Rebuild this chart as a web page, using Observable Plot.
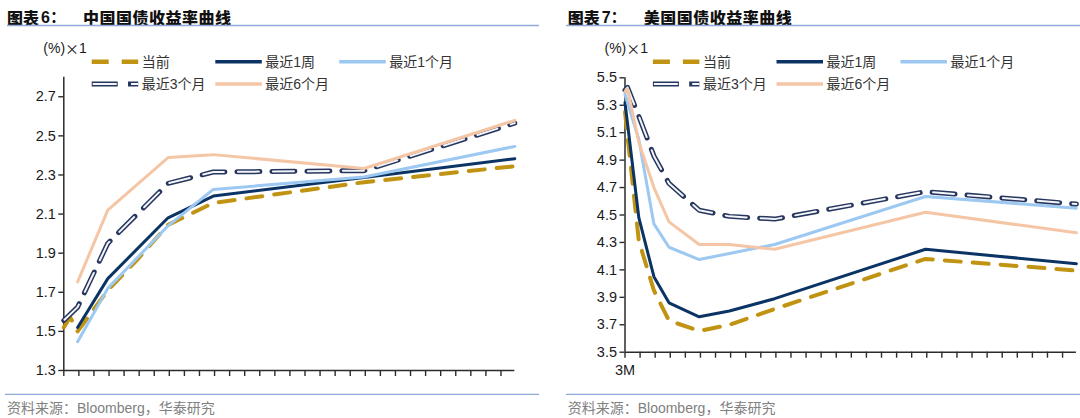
<!DOCTYPE html>
<html><head><meta charset="utf-8">
<script src="https://cdn.jsdelivr.net/npm/d3@7"></script>
<script src="https://cdn.jsdelivr.net/npm/@observablehq/plot@0.6"></script>
<style>
html,body{margin:0;padding:0;background:#fff;}
#wrap{position:relative;width:1080px;height:418px;overflow:hidden;font-family:"Liberation Sans",Arial,"Noto Sans CJK SC",sans-serif;}
#wrap > svg{position:absolute;top:0;}
</style></head><body><div id="wrap"></div>
<script>
// ---------- data ----------
const tenors = ["1M","3M","6M","1Y","2Y","3Y","5Y","7Y","10Y","20Y","30Y"];
const tenorYears = [1/12, 0.25, 0.5, 1, 2, 3, 5, 7, 10, 20, 30];
const seriesNames = ["当前","最近1周","最近1个月","最近3个月","最近6个月"];

// China (%)
const cnCurrent = [1.52, null, 1.573, 1.50, null, 1.71, 1.87, 2.045, 2.157, 2.263, 2.345];
const cnWeek    = [null, null, null, 1.52, null, 1.77, null, 2.081, 2.192, 2.287, 2.383];
const cnMonth   = [null, null, null, 1.447, null, 1.72, null, 2.04, 2.226, 2.29, 2.446];
const cn3Month  = [1.556, null, null, 1.624, null, 1.95, null, 2.257, 2.315, 2.322, 2.565];
const cn6Month  = [null, null, null, 1.753, null, 2.12, null, 2.389, 2.404, 2.333, 2.579];

// US (%)
const usCurrent = [5.25, null, null, 4.31, 3.95, 3.73, 3.655, 3.70, 3.815, 4.18, 4.095];
const usWeek    = [5.32, null, null, 4.48, 4.05, 3.86, 3.758, 3.80, 3.89, 4.25, 4.145];
const usMonth   = [5.38, null, null, 5.05, 4.435, 4.265, 4.175, 4.22, 4.285, 4.635, 4.55];
const us3Month  = [5.41, 5.43, null, 5.22, 4.93, 4.73, 4.535, 4.49, 4.47, 4.67, 4.58];
const us6Month  = [5.40, 5.42, null, 5.03, 4.70, 4.45, 4.285, 4.285, 4.25, 4.52, 4.37];

const cnYTicks = [1.3, 1.5, 1.7, 1.9, 2.1, 2.3, 2.5, 2.7];
const usYTicks = [3.5, 3.7, 3.9, 4.1, 4.3, 4.5, 4.7, 4.9, 5.1, 5.3, 5.5];
const cnXLabels = [];
const usXLabels = ["3M"];

// ---------- styles ----------
const colors = {"当前":"#C09412","最近1周":"#0B3465","最近1个月":"#9CC8F2","最近3个月":"#26365E","最近6个月":"#F5C6A5"};
const inner3M = "#F3F5F9";
const axisColor = "#2b2b2b";
const xMin = 1/12, xMax = 30;
const xTicks = d3.range(30).map(k => xMin + k);

function rows(valsList) {
  const out = [];
  valsList.forEach((vals, si) => vals.forEach((v, i) => {
    if (v != null) out.push({series: seriesNames[si], x: tenorYears[i], y: v});
  }));
  return out;
}

function chart(valsList, yDomain, yTicks, xLabels, m) {
  const data = rows(valsList);
  const of = name => data.filter(d => d.series === name);
  const lbl = d => (Math.abs(d - xTicks[0]) < 1e-9 && xLabels.length) ? xLabels[0] : "";
  return Plot.plot({
    width: 540, height: 418,
    marginLeft: m.left, marginRight: m.right, marginTop: m.top, marginBottom: m.bottom,
    style: {fontFamily: "Liberation Sans, Arial, sans-serif", fontSize: "14.5px", background: "transparent", overflow: "visible", color: "#1a1a1a"},
    x: {type: "linear", domain: [xMin, xMax]},
    y: {type: "linear", domain: yDomain},
    marks: [
      Plot.axisY({ticks: yTicks, label: null, tickSize: 5, tickPadding: 3, tickFormat: d => d.toFixed(1), stroke: axisColor, strokeWidth: 1.4, fill: "#1a1a1a", fontSize: 14.5}),
      Plot.axisX({ticks: xTicks, label: null, tickSize: 6, tickPadding: 7, tickFormat: lbl, stroke: axisColor, strokeWidth: 1.4, fill: "#1a1a1a", fontSize: 14.5}),
      Plot.ruleX([xMin], {stroke: axisColor, strokeWidth: 1.5}),
      Plot.ruleY([yDomain[0]], {stroke: axisColor, strokeWidth: 1.5}),
      Plot.line(of("当前"), {x: "x", y: "y", stroke: colors["当前"], strokeWidth: 4, strokeDasharray: "16,12", strokeLinejoin: "round"}),
      Plot.line(of("最近1周"), {x: "x", y: "y", stroke: colors["最近1周"], strokeWidth: 3, strokeLinejoin: "round"}),
      Plot.line(of("最近1个月"), {x: "x", y: "y", stroke: colors["最近1个月"], strokeWidth: 3, strokeLinejoin: "round"}),
      Plot.line(of("最近3个月"), {x: "x", y: "y", stroke: colors["最近3个月"], strokeWidth: 5, strokeDasharray: "23,12", strokeLinejoin: "round"}),
      Plot.line(of("最近3个月"), {x: "x", y: "y", stroke: inner3M, strokeWidth: 2, strokeDasharray: "21,14", strokeDashoffset: -1, strokeLinejoin: "round"}),
      Plot.line(of("最近6个月"), {x: "x", y: "y", stroke: colors["最近6个月"], strokeWidth: 3, strokeLinejoin: "round"})
    ]
  });
}

const wrap = document.getElementById("wrap");
const left = chart([cnCurrent, cnWeek, cnMonth, cn3Month, cn6Month], [1.3, 2.8], cnYTicks, cnXLabels,
  {left: 63.3, right: 25.7, top: 76.7, bottom: 48});
left.style.left = "0px";
wrap.appendChild(left);
const right = chart([usCurrent, usWeek, usMonth, us3Month, us6Month], [3.5, 5.5], usYTicks, usXLabels,
  {left: 84.5, right: 4.1, top: 77.3, bottom: 66.3});
right.style.left = "540px";
wrap.appendChild(right);

// ---------- overlay: titles, legends, captions ----------
const ov = d3.select(wrap).append("svg").attr("width", 1080).attr("height", 418).style("left", "0px")
  .style("font-family", "Liberation Sans, Arial, Noto Sans CJK SC, sans-serif");

const panels = [
  {dx: 0, tag: "图表", num: "6：", title: "中国国债收益率曲线", rule: [7, 539], rule2: [5, 539]},
  {dx: 560.7, tag: "图表", num: "7：", title: "美国国债收益率曲线", rule: [566, 1080], rule2: [566, 1080]}
];
panels.forEach(p => {
  const t = ov.append("text").attr("x", 7 + p.dx).attr("y", 16.8).attr("dominant-baseline", "central")
    .attr("font-size", 16).attr("font-weight", 900).attr("fill", "#111")
    .style("font-family", "Noto Sans CJK SC");
  t.append("tspan").text(p.tag);
  t.append("tspan").attr("dx", 2).style("font-family", "Liberation Sans, Noto Sans CJK SC").attr("font-weight", "bold").text(p.num);
  ov.append("text").attr("x", 83 + p.dx).attr("y", 16.8).attr("dominant-baseline", "central")
    .attr("font-size", 16).attr("font-weight", 900).attr("fill", "#111").attr("letter-spacing", 0.5)
    .style("font-family", "Noto Sans CJK SC").text(p.title);
  ov.append("line").attr("x1", p.rule[0]).attr("x2", p.rule[1]).attr("y1", 25.5).attr("y2", 25.5)
    .attr("stroke", "#8EAADB").attr("stroke-width", 1.3);
  ov.append("line").attr("x1", p.rule2[0]).attr("x2", p.rule2[1]).attr("y1", 394.3).attr("y2", 394.3)
    .attr("stroke", "#8EAADB").attr("stroke-width", 1.3);
  ov.append("text").attr("x", 7 + p.dx).attr("y", 407.5).attr("dominant-baseline", "central")
    .attr("font-size", 14).attr("fill", "#808080").text("资料来源：Bloomberg，华泰研究");
});

// legends
const lg = [
  {name: "当前", row: 0, x: 91.7},
  {name: "最近1周", row: 0, x: 215.3},
  {name: "最近1个月", row: 0, x: 339.2},
  {name: "最近3个月", row: 1, x: 91.7},
  {name: "最近6个月", row: 1, x: 215.3}
];
const rowY = [61.7, 84];
[0, 561.2].forEach(dx => {
  const u = ov.append("text").attr("x", 43.3 + dx).attr("y", 48).attr("dominant-baseline", "central")
    .attr("font-size", 14).attr("fill", "#1a1a1a");
  u.append("tspan").text("(%)");
  u.append("tspan").style("font-family", "Noto Sans CJK SC").text("×");
  u.append("tspan").text("1");
  lg.forEach(it => {
    const x0 = it.x + dx, y = rowY[it.row];
    const ln = (stroke, w, dash) => {
      const l = ov.append("line").attr("x1", x0).attr("x2", x0 + 46.5).attr("y1", y).attr("y2", y)
        .attr("stroke", stroke).attr("stroke-width", w);
      if (dash) l.attr("stroke-dasharray", dash);
      return l;
    };
    if (it.name === "当前") ln(colors[it.name], 4.5, "17,13");
    else if (it.name === "最近3个月") { ln(colors[it.name], 5, "26,10.3"); ln(inner3M, 2, "24,14.3").attr("stroke-dashoffset", -1); }
    else ln(colors[it.name], 3.5);
    ov.append("text").attr("x", x0 + 50).attr("y", y).attr("dominant-baseline", "central")
      .attr("font-size", 14).attr("fill", "#333").text(it.name);
  });
});
</script></body></html>
